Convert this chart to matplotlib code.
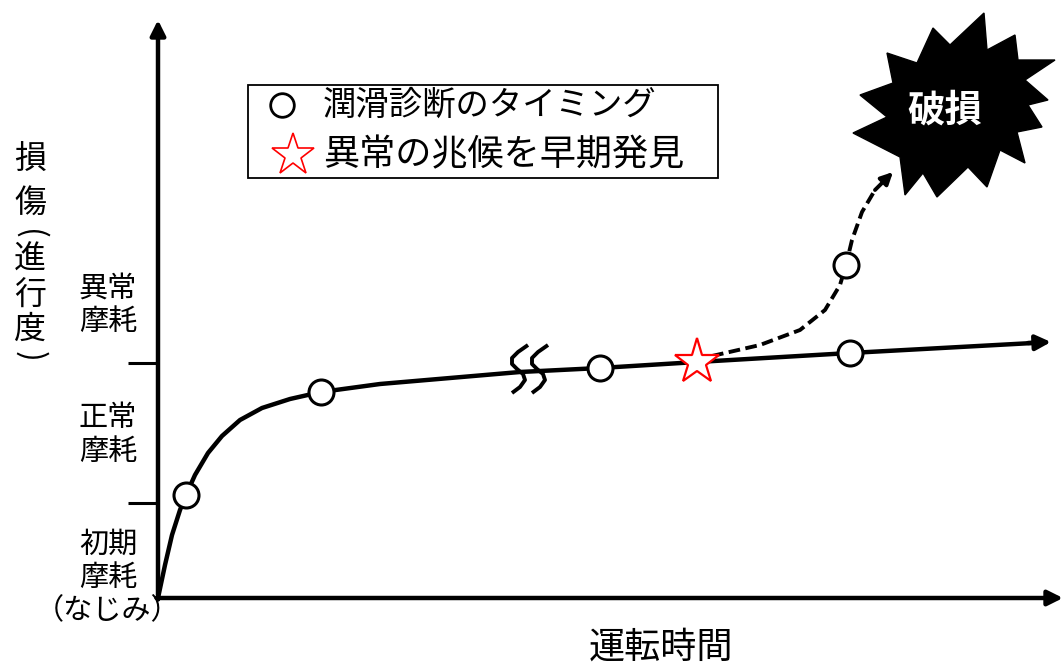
"""
Wear progression concept chart (lubrication diagnosis timing)
"""
import matplotlib
matplotlib.use('Agg')
import matplotlib.pyplot as plt
from matplotlib.patches import Polygon, Rectangle

plt.rcParams['font.family'] = ['Noto Sans CJK JP', 'DejaVu Sans']

# main wear curve (operating time, damage)
curve_t = [0, 7, 14, 22, 28, 37, 50, 64, 82, 104, 132, 163, 222, 292, 362, 442, 539, 692, 875]
curve_d = [0, 33, 63, 88, 103, 123, 145, 162, 178, 190, 199, 206, 214, 220, 226, 230, 236, 245, 255]
curve_tip = (893, 256)

# lubrication diagnosis timings (circles)
diag_t = [28, 163, 442, 692, 688]
diag_d = [103, 206, 230, 245, 333]

# early detection of abnormal sign (star)
star_t = [539]
star_d = [236]

# dashed path to failure
fail_t = [554, 602, 642, 667, 682, 688, 694, 704, 717]
fail_d = [242, 253, 268, 288, 313, 333, 358, 386, 408]
fail_tip = (735, 426)

# break mark (two S strokes)
brk1_t = [370, 360, 354, 354, 359, 365, 367, 362, 354]
brk1_d = [253, 246, 240, 234, 229, 224, 218, 211, 205]
brk2_t = [t + 20 for t in brk1_t]
brk2_d = brk1_d

# explosion outline
boom_t = [826, 829, 857, 860, 897, 867, 890, 870, 884, 859, 867, 842, 829, 810,
          779, 765, 747, 742, 695, 729, 702, 735, 729, 759, 775, 792]
boom_d = [585, 548, 563, 538, 538, 518, 498, 493, 471, 466, 435, 448, 411, 431,
          401, 425, 403, 441, 465, 481, 503, 515, 545, 535, 570, 553]

zone_ticks = [95, 235]
zone_labels = ['初期\n摩耗\n（なじみ）', '正常\n摩耗', '異常\n摩耗']
zone_label_d = [20, 163, 293]

# vertical axis title, one character per row (parentheses rotated)
ytitle_chars = ['損', '傷', '(', '進', '行', '度', ')']
ytitle_d = [438, 394, 364, 338, 302, 268, 242]
ytitle_rot = [0, 0, -90, 0, 0, 0, -90]

fig = plt.figure(figsize=(10.63, 6.67), dpi=100)
ax = fig.add_axes([0, 0, 1, 1])
ax.set_xlim(-158, 905)
ax.set_ylim(-69, 598)
ax.axis('off')

LW = 3.2
HEAD = '-|>,head_length=0.9,head_width=0.45'

# axes with arrows
ax.annotate('', xy=(0, 578), xytext=(0, -1.5),
            arrowprops=dict(arrowstyle=HEAD, lw=LW, color='black', shrinkA=0, shrinkB=0))
ax.annotate('', xy=(905, 0), xytext=(-1.5, 0),
            arrowprops=dict(arrowstyle=HEAD, lw=LW, color='black', shrinkA=0, shrinkB=0))

# zone ticks and labels
for d in zone_ticks:
    ax.plot([-30, 0], [d, d], color='black', lw=2.2, solid_capstyle='butt')
for lab, d in zip(zone_labels, zone_label_d):
    ax.text(-50, d, lab, ha='center', va='center', fontsize=21, linespacing=1.15)

# vertical y label
for ch, d, rot in zip(ytitle_chars, ytitle_d, ytitle_rot):
    ax.text(-128, d, ch, ha='center', va='center', fontsize=23, rotation=rot)
ax.text(503, -50, '運転時間', ha='center', va='center', fontsize=26)

# main curve
ax.plot(curve_t, curve_d, color='black', lw=LW, solid_joinstyle='round', zorder=3)
ax.annotate('', xy=curve_tip, xytext=(curve_t[-1] - 5, curve_d[-1]),
            arrowprops=dict(arrowstyle=HEAD, lw=LW, color='black', shrinkA=0, shrinkB=0),
            zorder=3)

# break marks
for bt, bd in [(brk1_t, brk1_d), (brk2_t, brk2_d)]:
    ax.plot(bt, bd, color='black', lw=2.8, solid_joinstyle='round',
            solid_capstyle='butt', zorder=4)

# dashed path to failure
ax.plot(fail_t, fail_d, color='black', lw=2.8, ls=(0, (3, 1.4)), zorder=3)
ax.annotate('', xy=fail_tip, xytext=(fail_t[-1], fail_d[-1]),
            arrowprops=dict(arrowstyle='-|>,head_length=0.7,head_width=0.35',
                            lw=2.8, color='black', shrinkA=0, shrinkB=0), zorder=3)

# markers
ax.plot(diag_t, diag_d, ls='none', marker='o', ms=18, mfc='white', mec='black',
        mew=2.2, zorder=5)
ax.plot(star_t, star_d, ls='none', marker='*', ms=34, mfc='white', mec='red',
        mew=1.6, zorder=5)

# explosion
ax.add_patch(Polygon(list(zip(boom_t, boom_d)), closed=True, fc='black', ec='black',
                     zorder=6))
ax.text(787, 488, '破損', color='white', fontsize=27, fontweight='bold',
        ha='center', va='center', zorder=7)

# legend box
ax.add_patch(Rectangle((90, 420), 470, 93, fill=False, ec='black', lw=1.3, zorder=6))
ax.plot([124], [493], ls='none', marker='o', ms=17, mfc='white', mec='black',
        mew=2.0, zorder=7)
ax.plot([135], [443], ls='none', marker='*', ms=32, mfc='white', mec='red',
        mew=1.2, zorder=7)
ax.text(165, 493, '潤滑診断のタイミング', ha='left', va='center', fontsize=24, zorder=7)
ax.text(165, 443, '異常の兆候を早期発見', ha='left', va='center', fontsize=26, zorder=7)

fig.savefig('out.png', dpi=100)
